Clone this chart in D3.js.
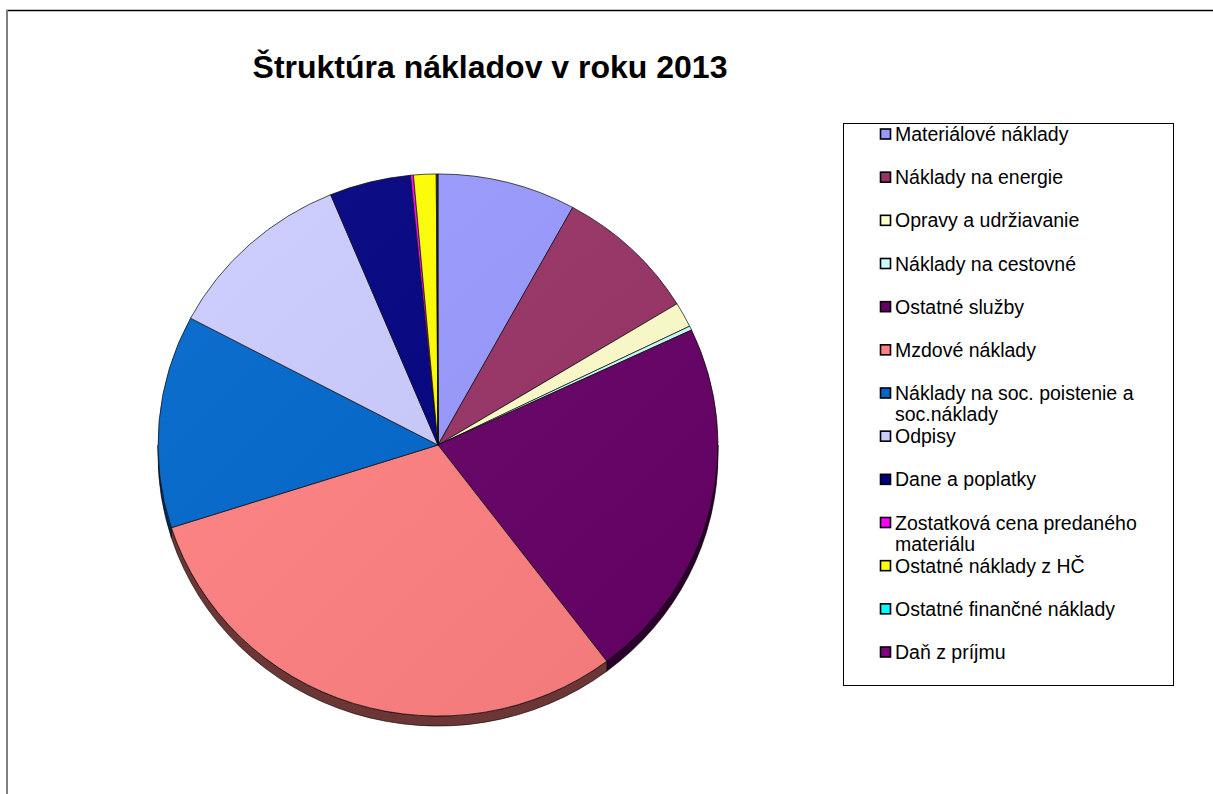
<!DOCTYPE html>
<html>
<head>
<meta charset="utf-8">
<script src="https://cdn.jsdelivr.net/npm/d3@7"></script>
<style>
  body { margin: 0; background: #fff; }
  svg { display: block; font-family: "Liberation Sans", Arial, sans-serif; }
</style>
</head>
<body>
<div id="chart"></div>
<script>
// chart data (share of costs in %)
var categories = [
  "Materiálové náklady",
  "Náklady na energie",
  "Opravy a udržiavanie",
  "Náklady na cestovné",
  "Ostatné služby",
  "Mzdové náklady",
  "Náklady na soc. poistenie a soc.náklady",
  "Odpisy",
  "Dane a poplatky",
  "Zostatková cena predaného materiálu",
  "Ostatné náklady z HČ",
  "Ostatné finančné náklady",
  "Daň z príjmu"
];
var values = [8.0, 8.3, 1.5, 0.25, 21.7, 30.4, 12.7, 11.0, 4.7, 0.17, 1.3, 0.05, 0.05];
// legend text split into lines the way the original wraps it
var legendLines = [
  ["Materiálové náklady"],
  ["Náklady na energie"],
  ["Opravy a udržiavanie"],
  ["Náklady na cestovné"],
  ["Ostatné služby"],
  ["Mzdové náklady"],
  ["Náklady na soc. poistenie a", "soc.náklady"],
  ["Odpisy"],
  ["Dane a poplatky"],
  ["Zostatková cena predaného", "materiálu"],
  ["Ostatné náklady z HČ"],
  ["Ostatné finančné náklady"],
  ["Daň z príjmu"]
];
var colors = ["#9999FF", "#993366", "#FFFFCC", "#CCFFFF", "#660066", "#FF8080",
  "#0066CC", "#CCCCFF", "#000080", "#FF00FF", "#FFFF00", "#00FFFF", "#800080"];
var title = "Štruktúra nákladov v roku 2013";

var width = 1213, height = 794;
// pie is slightly tilted: a bit flatter vertically than horizontally
var cx = 438, cy = 445, radius = 280, tilt = 0.968, depth = 10;

var svg = d3.select("#chart").append("svg")
  .attr("width", width)
  .attr("height", height);

// outer frame (only top and left edges show in the picture)
svg.append("line")
  .attr("x1", 6).attr("x2", width).attr("y1", 10.5).attr("y2", 10.5)
  .attr("stroke", "#000").attr("stroke-width", 1.5);
svg.append("line")
  .attr("x1", 7).attr("x2", 7).attr("y1", 10).attr("y2", height)
  .attr("stroke", "#808080").attr("stroke-width", 2);

// title
svg.append("text")
  .attr("x", 490)
  .attr("y", 78)
  .attr("text-anchor", "middle")
  .attr("font-size", 32)
  .attr("font-weight", "bold")
  .text(title);

var data = categories.map(function (c, i) {
  return { name: c, value: values[i], color: colors[i] };
});

var pie = d3.pie()
  .sort(null)
  .value(function (d) { return d.value; });
var arcs = pie(data);

var arc = d3.arc().innerRadius(0).outerRadius(radius);

var g = svg.append("g")
  .attr("transform", "translate(" + cx + "," + cy + ") scale(1," + tilt + ")");

// side walls of the 3d pie (only the lower half is visible)
var d0 = depth / tilt;
function pt(a, dy) {
  return [radius * Math.sin(a), -radius * Math.cos(a) + dy];
}
arcs.forEach(function (d) {
  var a0 = Math.max(d.startAngle, Math.PI / 2);
  var a1 = Math.min(d.endAngle, Math.PI * 1.5);
  if (a1 <= a0) return;
  var p0 = pt(a0, 0), p1 = pt(a1, 0), p2 = pt(a1, d0), p3 = pt(a0, d0);
  var large = (a1 - a0) > Math.PI ? 1 : 0;
  var path = "M" + p0 + "A" + radius + "," + radius + " 0 " + large + " 1 " + p1 +
    "L" + p2 + "A" + radius + "," + radius + " 0 " + large + " 0 " + p3 + "Z";
  g.append("path")
    .attr("d", path)
    .attr("fill", d3.color(d.data.color).darker(2.4))
    .attr("stroke", "#000")
    .attr("stroke-width", 0.6)
    .attr("vector-effect", "non-scaling-stroke");
});

// top faces
g.selectAll("path.slice")
  .data(arcs)
  .enter()
  .append("path")
  .attr("class", "slice")
  .attr("d", arc)
  .attr("fill", function (d) { return d.data.color; })
  .attr("stroke", "#000")
  .attr("stroke-width", 0.7)
  .attr("stroke-linejoin", "round")
  .attr("vector-effect", "non-scaling-stroke");

// soft lighting over the pie
var defs = svg.append("defs");
var grad = defs.append("linearGradient")
  .attr("id", "shade")
  .attr("x1", "0%").attr("y1", "0%").attr("x2", "100%").attr("y2", "100%");
grad.append("stop").attr("offset", "0%").attr("stop-color", "#fff").attr("stop-opacity", 0.06);
grad.append("stop").attr("offset", "100%").attr("stop-color", "#000").attr("stop-opacity", 0.06);
g.append("circle")
  .attr("r", radius)
  .attr("fill", "url(#shade)")
  .attr("pointer-events", "none");

// legend
var legendX = 843, legendY = 123, legendW = 330, legendH = 562;
svg.append("rect")
  .attr("x", legendX + 0.5).attr("y", legendY + 0.5)
  .attr("width", legendW).attr("height", legendH)
  .attr("fill", "#fff")
  .attr("stroke", "#000")
  .attr("stroke-width", 1);

var rowY = d3.scaleLinear().domain([0, categories.length - 1]).range([134, 652]);

var item = svg.selectAll("g.item")
  .data(data)
  .enter()
  .append("g")
  .attr("class", "item")
  .attr("transform", function (d, i) { return "translate(880," + rowY(i) + ")"; });

item.append("rect")
  .attr("x", 0.5).attr("y", -5)
  .attr("width", 10).attr("height", 10)
  .attr("fill", function (d) { return d.color; })
  .attr("stroke", "#000")
  .attr("stroke-width", 1.6);

item.append("text")
  .attr("x", 15)
  .attr("y", 7)
  .attr("font-size", 19.5)
  .attr("fill", "#000")
  .each(function (d, i) {
    var t = d3.select(this);
    legendLines[i].forEach(function (line, j) {
      t.append("tspan").attr("x", 15).attr("dy", j === 0 ? 0 : 21).text(line);
    });
  });
</script>
</body>
</html>
